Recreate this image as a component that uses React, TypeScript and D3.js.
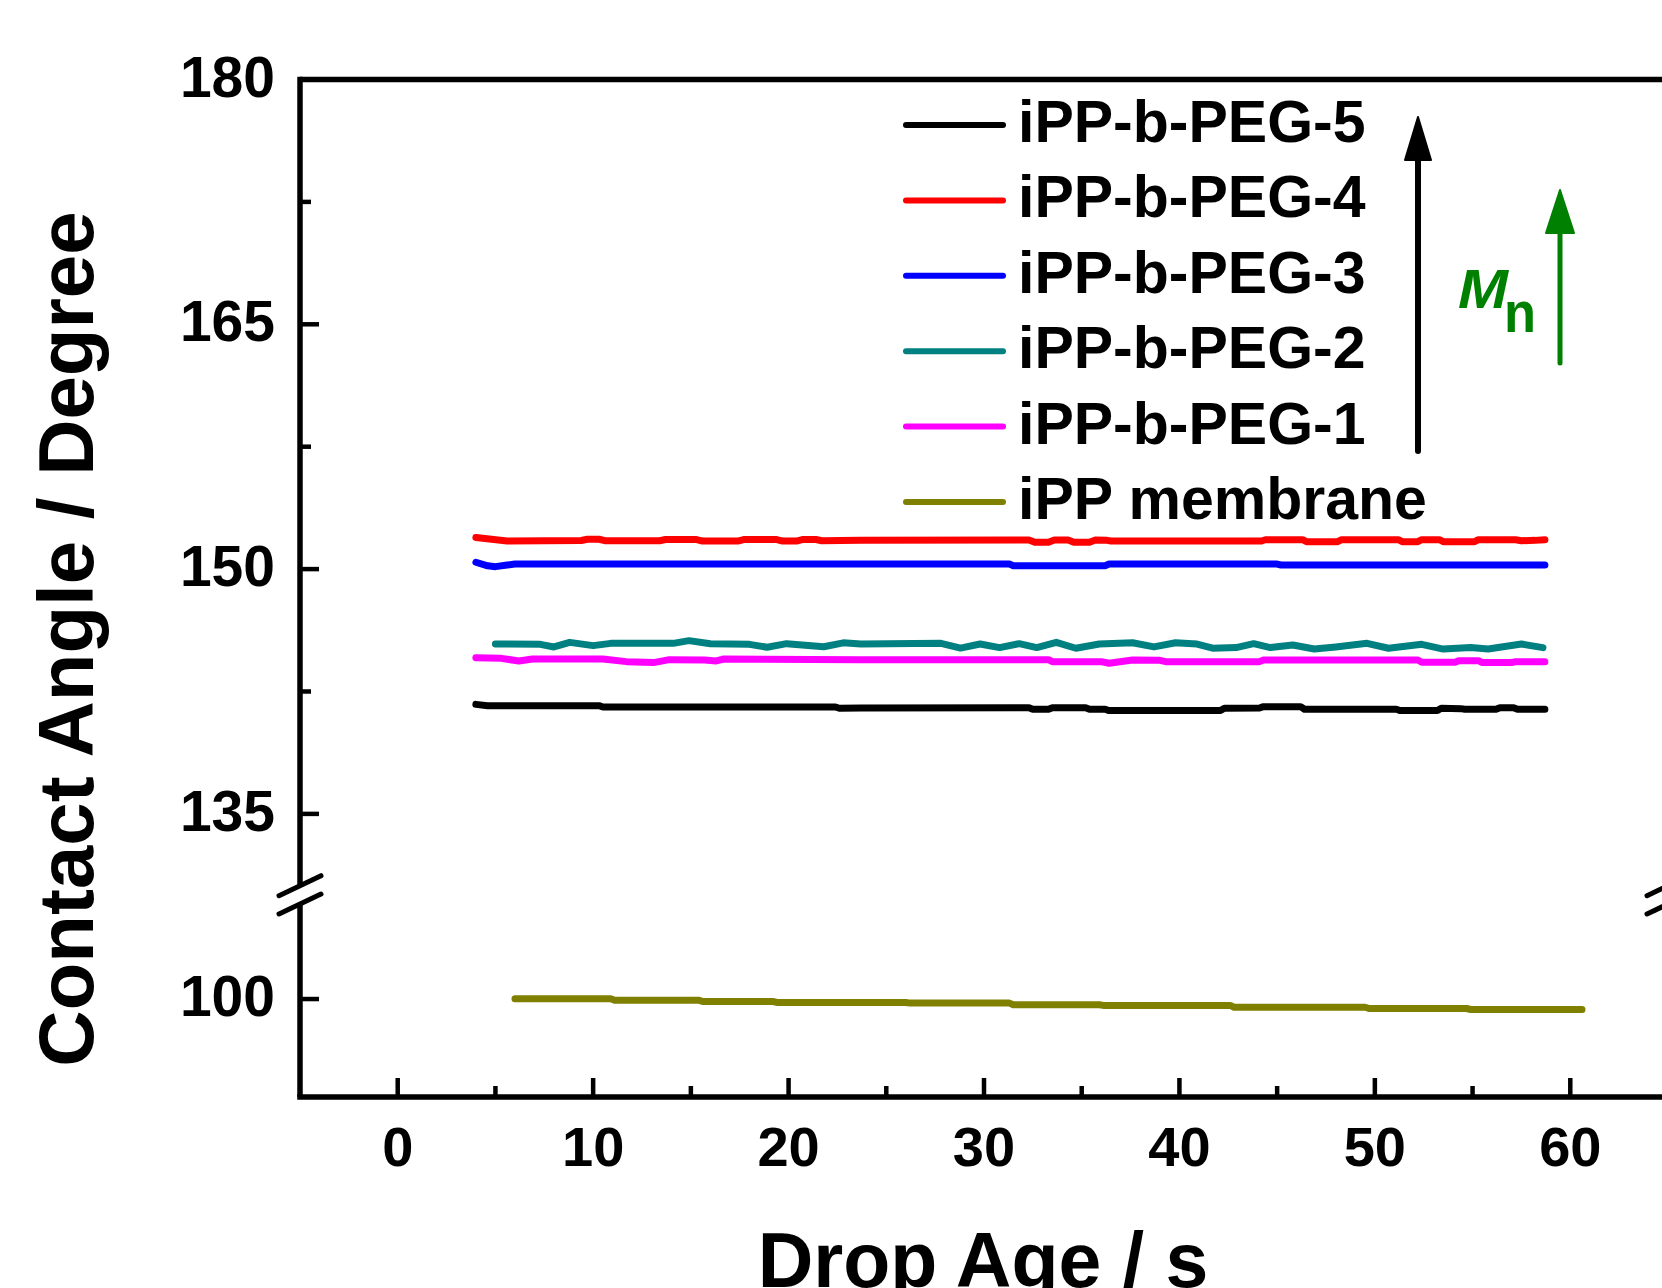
import React from 'react';
import * as d3 from 'd3';

// ---------- data ----------
const seriesNames = ['iPP-b-PEG-5', 'iPP-b-PEG-4', 'iPP-b-PEG-3', 'iPP-b-PEG-2', 'iPP-b-PEG-1', 'iPP membrane'];
const seriesColors = ['#000000', '#ff0000', '#0000ff', '#008080', '#ff00ff', '#808000'];

const peg5: [number, number][] = [
  [4.0, 141.71], [4.6, 141.63], [10.3, 141.63], [10.5, 141.55], [22.4, 141.55], [22.6, 141.47], [23.7, 141.49],
  [32.3, 141.51], [32.5, 141.41], [33.3, 141.41], [33.5, 141.51], [35.2, 141.51], [35.4, 141.41], [36.2, 141.41],
  [36.4, 141.33], [42.1, 141.33], [42.3, 141.47], [44.1, 141.49], [44.3, 141.57], [46.2, 141.57], [46.4, 141.41],
  [51.1, 141.41], [51.3, 141.33], [53.2, 141.33], [53.4, 141.47], [54.4, 141.45], [54.6, 141.41], [56.2, 141.41],
  [56.4, 141.51], [57.1, 141.51], [57.3, 141.41], [58.7, 141.41],
];
const peg4: [number, number][] = [
  [4.0, 151.93], [5.6, 151.72], [9.4, 151.75], [9.7, 151.83], [10.3, 151.83], [10.6, 151.74], [13.4, 151.74],
  [13.7, 151.81], [15.3, 151.81], [15.6, 151.72], [17.4, 151.72], [17.7, 151.81], [19.4, 151.81], [19.7, 151.72],
  [20.4, 151.72], [20.7, 151.81], [21.4, 151.81], [21.7, 151.74], [23.7, 151.76], [32.3, 151.78], [32.6, 151.64],
  [33.3, 151.64], [33.6, 151.78], [34.3, 151.78], [34.6, 151.64], [35.4, 151.64], [35.7, 151.78], [36.3, 151.76],
  [36.5, 151.72], [44.2, 151.72], [44.4, 151.8], [46.3, 151.8], [46.5, 151.68], [48.1, 151.68], [48.3, 151.8],
  [51.2, 151.8], [51.4, 151.68], [52.2, 151.68], [52.4, 151.8], [53.3, 151.8], [53.5, 151.68], [55.1, 151.68],
  [55.3, 151.8], [57.2, 151.8], [57.5, 151.74], [58.2, 151.76], [58.7, 151.8],
];
const peg3: [number, number][] = [
  [4.0, 150.42], [4.6, 150.2], [5.0, 150.15], [5.6, 150.25], [6.0, 150.31], [31.3, 150.31], [31.5, 150.21],
  [36.2, 150.21], [36.4, 150.31], [45.0, 150.31], [45.2, 150.25], [58.7, 150.25],
];
const peg2: [number, number][] = [
  [5.0, 145.41], [7.3, 145.39], [8.0, 145.23], [8.8, 145.51], [10.0, 145.31], [10.9, 145.45], [14.1, 145.45],
  [14.9, 145.615], [16.0, 145.43], [18.0, 145.39], [18.9, 145.21], [19.9, 145.43], [21.8, 145.24], [22.8, 145.48],
  [23.7, 145.41], [27.8, 145.45], [28.8, 145.16], [29.8, 145.41], [30.8, 145.19], [31.8, 145.43], [32.7, 145.19],
  [33.7, 145.51], [34.7, 145.15], [35.9, 145.41], [37.6, 145.49], [38.7, 145.23], [39.8, 145.49], [40.9, 145.41],
  [41.7, 145.15], [42.9, 145.19], [43.8, 145.43], [44.65, 145.19], [45.8, 145.35], [46.9, 145.1], [48.0, 145.23],
  [49.6, 145.45], [50.7, 145.15], [52.4, 145.39], [53.5, 145.1], [54.9, 145.19], [55.8, 145.1], [57.5, 145.41],
  [58.6, 145.19],
];
const peg1: [number, number][] = [
  [4.0, 144.57], [5.3, 144.53], [6.2, 144.37], [6.9, 144.49], [10.5, 144.49], [11.7, 144.33], [13.1, 144.27],
  [13.9, 144.45], [15.7, 144.43], [16.3, 144.37], [16.7, 144.49], [23.7, 144.45], [33.3, 144.45], [33.5, 144.33],
  [36.0, 144.33], [36.4, 144.23], [37.6, 144.43], [39.0, 144.41], [39.3, 144.33], [44.1, 144.33], [44.3, 144.43],
  [52.2, 144.43], [52.4, 144.29], [54.1, 144.29], [54.3, 144.39], [55.3, 144.39], [55.5, 144.27], [57.0, 144.27],
  [57.2, 144.33], [58.7, 144.33],
];
const ippMembrane: [number, number][] = [
  [6.0, 100.02], [10.9, 100.02], [11.1, 99.93], [15.4, 99.93], [15.6, 99.85], [19.2, 99.85], [19.4, 99.79],
  [26.0, 99.79], [26.2, 99.75], [31.3, 99.75], [31.5, 99.65], [35.9, 99.65], [36.1, 99.61], [42.6, 99.61],
  [42.8, 99.5], [49.5, 99.5], [49.7, 99.42], [54.7, 99.42], [54.9, 99.36], [60.6, 99.36],
];

const xMajorTicks = [0, 10, 20, 30, 40, 50, 60];
const xMinorTicks = [5, 15, 25, 35, 45, 55];
const yUpperMajor = [135, 150, 165, 180];
const yUpperMinor = [142.5, 157.5, 172.5];
const yLowerMajor = [100];

const FONT = "'Liberation Sans', Arial, Helvetica, sans-serif";

export default function App() {
  const W = 1662;
  const H = 1288;
  const x = d3.scaleLinear().domain([-5, 65]).range([300, 1668]);
  const yU = d3.scaleLinear().domain([130.6, 180]).range([885.7, 79.5]);
  const yL = d3.scaleLinear().domain([94, 105.82]).range([1097, 904]);

  const upperSeries = [peg5, peg4, peg3, peg2, peg1];
  const lineU = d3.line<[number, number]>().x(d => x(d[0])).y(d => yU(d[1]));
  const lineL = d3.line<[number, number]>().x(d => x(d[0])).y(d => yL(d[1]));

  const xLeft = x(-5);
  const xRight = x(65);
  const yTop = yU(180);
  const yBottom = yL(94);
  const breakU = yU(130.6);
  const breakL = yL(105.82);

  const axisSW = 5.5;
  const tickSW = 4.5;
  const majorLen = 19;
  const minorLen = 11;

  const slash = (cx: number, cy: number, key: string) => (
    <line key={key} x1={cx - 21} y1={cy + 10} x2={cx + 21} y2={cy - 10} stroke="#000" strokeWidth={5} strokeLinecap="round" />
  );

  const legendX1 = 906;
  const legendX2 = 1003;
  const legendY0 = 125;
  const legendDy = 75.4;

  return (
    <svg width={W} height={H} style={{ position: 'absolute', left: 0, top: 0, background: '#fff', overflow: 'hidden' }}
      fontFamily={FONT} fontWeight="bold">
      <rect x={0} y={0} width={W} height={H} fill="#fff" />

      {/* data lines */}
      {upperSeries.map((s, i) => (
        <path key={seriesNames[i]} d={lineU(s) || ''} fill="none" stroke={seriesColors[i]} strokeWidth={7}
          strokeLinecap="round" strokeLinejoin="round" />
      ))}
      <path d={lineL(ippMembrane) || ''} fill="none" stroke={seriesColors[5]} strokeWidth={7}
        strokeLinecap="round" strokeLinejoin="round" />

      {/* frame */}
      <line x1={xLeft} y1={yTop} x2={xRight} y2={yTop} stroke="#000" strokeWidth={axisSW} />
      <line x1={xLeft} y1={yBottom} x2={xRight} y2={yBottom} stroke="#000" strokeWidth={axisSW} strokeLinecap="square" />
      <line x1={xLeft} y1={yTop - axisSW / 2} x2={xLeft} y2={breakU} stroke="#000" strokeWidth={axisSW} />
      <line x1={xLeft} y1={breakL} x2={xLeft} y2={yBottom} stroke="#000" strokeWidth={axisSW} />
      <line x1={xRight} y1={yTop - axisSW / 2} x2={xRight} y2={breakU} stroke="#000" strokeWidth={axisSW} />
      <line x1={xRight} y1={breakL} x2={xRight} y2={yBottom} stroke="#000" strokeWidth={axisSW} />
      {slash(xLeft, breakU, 'sl1')}
      {slash(xLeft, breakL, 'sl2')}
      {slash(xRight, breakU, 'sr1')}
      {slash(xRight, breakL, 'sr2')}

      {/* x ticks */}
      {xMajorTicks.map(t => (
        <g key={'xt' + t}>
          <line x1={x(t)} x2={x(t)} y1={yBottom} y2={yBottom - majorLen} stroke="#000" strokeWidth={tickSW} />
          <text x={x(t)} y={1166} fontSize={56} textAnchor="middle" fill="#000">{t}</text>
        </g>
      ))}
      {xMinorTicks.map(t => (
        <line key={'xm' + t} x1={x(t)} x2={x(t)} y1={yBottom} y2={yBottom - minorLen} stroke="#000" strokeWidth={tickSW} />
      ))}

      {/* y ticks upper */}
      {yUpperMajor.map(t => (
        <g key={'yu' + t}>
          <line x1={xLeft} x2={xLeft + majorLen} y1={yU(t)} y2={yU(t)} stroke="#000" strokeWidth={tickSW} />
          <text x={275} y={yU(t) + 17} fontSize={57} textAnchor="end" fill="#000">{t}</text>
        </g>
      ))}
      {yUpperMinor.map(t => (
        <line key={'yum' + t} x1={xLeft} x2={xLeft + minorLen} y1={yU(t)} y2={yU(t)} stroke="#000" strokeWidth={tickSW} />
      ))}
      {yLowerMajor.map(t => (
        <g key={'yl' + t}>
          <line x1={xLeft} x2={xLeft + majorLen} y1={yL(t)} y2={yL(t)} stroke="#000" strokeWidth={tickSW} />
          <text x={275} y={yL(t) + 17} fontSize={57} textAnchor="end" fill="#000">{t}</text>
        </g>
      ))}

      {/* axis titles */}
      <text x={983} y={1287} fontSize={77} textAnchor="middle" fill="#000">Drop Age / s</text>
      <text transform={`translate(93,639) rotate(-90)`} fontSize={78} textAnchor="middle" fill="#000">Contact Angle / Degree</text>

      {/* legend */}
      {seriesNames.map((n, i) => {
        const ly = legendY0 + i * legendDy;
        return (
          <g key={'lg' + n}>
            <line x1={legendX1} x2={legendX2} y1={ly} y2={ly} stroke={seriesColors[i]} strokeWidth={6} strokeLinecap="round" />
            <text x={1018} y={ly + 17} fontSize={59} fill="#000">{n}</text>
          </g>
        );
      })}

      {/* black arrow */}
      <line x1={1418} x2={1418} y1={451} y2={150} stroke="#000" strokeWidth={6} strokeLinecap="round" />
      <path d={`M1418,117 L1431,160 L1405,160 Z`} fill="#000" stroke="#000" strokeWidth={2} strokeLinejoin="round" />

      {/* green arrow */}
      <line x1={1560} x2={1560} y1={363} y2={225} stroke="#008000" strokeWidth={5} strokeLinecap="round" />
      <path d={`M1560,190 L1574,233 L1546,233 Z`} fill="#008000" stroke="#008000" strokeWidth={2} strokeLinejoin="round" />

      {/* Mn label */}
      <text x={1458} y={308} fontSize={56} fontStyle="italic" fill="#008000" textLength={50} lengthAdjust="spacingAndGlyphs">M</text>
      <text x={1504} y={332} fontSize={57} fill="#008000" textLength={32} lengthAdjust="spacingAndGlyphs">n</text>
    </svg>
  );
}
